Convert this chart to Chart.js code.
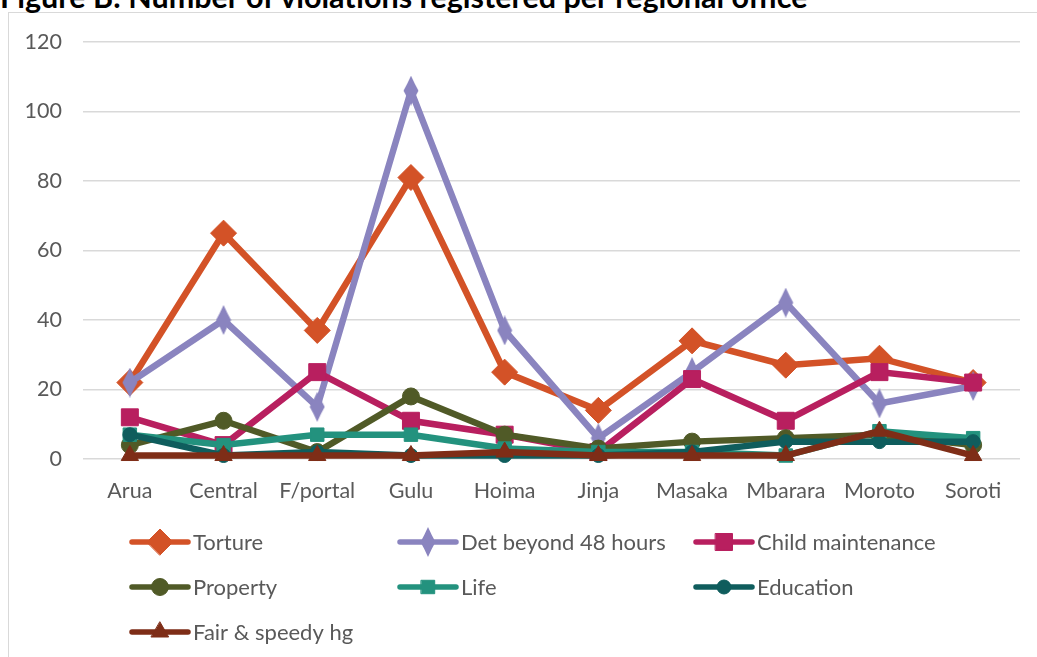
<!DOCTYPE html>
<html><head><meta charset="utf-8">
<script src="https://cdn.jsdelivr.net/npm/chart.js@4"></script>
<style>
html,body{margin:0;padding:0;background:#fff;overflow:hidden;}
#wrap{position:relative;width:1037px;height:657px;overflow:hidden;background:#fff;}
#frame{position:absolute;left:8px;top:12px;width:1100px;height:700px;border:1.5px solid #d9d9d9;box-sizing:border-box;}
#title{position:absolute;left:0;top:-22px;font-family:Lato,"Open Sans",sans-serif;font-weight:bold;font-size:30.5px;line-height:36px;white-space:nowrap;color:#000;}
canvas{position:absolute;left:0;top:0;}
</style></head>
<body>
<div id="wrap">
<div id="frame"></div>
<div id="title">Figure B: Number of violations registered per regional office</div>
<canvas id="c" width="1037" height="657"></canvas>
</div>
<script>
// ---- data ----
const categories = ['Arua','Central','F/portal','Gulu','Hoima','Jinja','Masaka','Mbarara','Moroto','Soroti'];
const torture          = [22, 65, 37, 81, 25, 14, 34, 27, 29, 22];
const detention48      = [22, 40, 15, 106, 37, 6, 25, 45, 16, 21];
const childMaintenance = [12, 4, 25, 11, 7, 2, 23, 11, 25, 22];
const property         = [4, 11, 2, 18, 7, 3, 5, 6, 7, 4];
const life             = [7, 4, 7, 7, 3, 2, 2, 1, 8, 6];
const education        = [7, 1, 2, 1, 1, 1, 2, 5, 5, 5];
const fairHearing      = [1, 1, 1, 1, 2, 1, 1, 1, 8, 1];
const seriesLabels = ['Torture','Det beyond 48 hours','Child maintenance','Property','Life','Education','Fair & speedy hg'];
const yTicks = [0, 20, 40, 60, 80, 100, 120];

// ---- styles ----
const FONT = 'Lato, "Open Sans", sans-serif';
const TEXT = '#595959';
function tallDiamond(color){
  const c = document.createElement('canvas');
  c.width = 16; c.height = 30;
  const g = c.getContext('2d');
  g.fillStyle = color;
  g.beginPath();
  g.moveTo(8,0);
  g.quadraticCurveTo(12,9,15.5,15);
  g.quadraticCurveTo(12,21,8,30);
  g.quadraticCurveTo(4,21,0.5,15);
  g.quadraticCurveTo(4,9,8,0);
  g.closePath();
  g.fill();
  return c;
}
const styles = [
  {color:'#D35227', point:'rectRot', r:13},
  {color:'#8A84BF', point:null, r:14},
  {color:'#B81F5F', point:'rect', r:12},
  {color:'#505A27', point:'circle', r:8.5},
  {color:'#23927E', point:'rect', r:9.5},
  {color:'#0F5D5D', point:'circle', r:7},
  {color:'#7E2D17', point:'triangle', r:10}
];
styles[1].point = tallDiamond(styles[1].color);
const seriesData = [torture, detention48, childMaintenance, property, life, education, fairHearing];

const datasets = seriesData.map((d,i)=>({
  label: seriesLabels[i],
  data: d,
  borderColor: styles[i].color,
  backgroundColor: styles[i].color,
  pointBackgroundColor: styles[i].color,
  pointBorderColor: styles[i].color,
  pointBorderWidth: 1,
  borderWidth: 6.5,
  pointStyle: styles[i].point,
  pointRadius: styles[i].r,
  pointHoverRadius: styles[i].r,
  tension: 0,
  clip: false,
  order: seriesData.length - i
}));

// ---- custom grid legend ----
const legendPos = [
  [132,542],[400,542],[696,542],
  [132,587],[400,587],[696,587],
  [132,632]
];
const gridLegend = {
  id:'gridLegend',
  afterDraw(chart){
    const ctx = chart.ctx;
    ctx.save();
    chart.data.datasets.forEach((ds,i)=>{
      const [x,y] = legendPos[i];
      ctx.strokeStyle = ds.borderColor;
      ctx.lineWidth = 5.5;
      ctx.lineCap = 'round';
      ctx.beginPath(); ctx.moveTo(x,y); ctx.lineTo(x+56,y); ctx.stroke();
      ctx.fillStyle = ds.borderColor;
      ctx.strokeStyle = ds.borderColor;
      ctx.lineWidth = 1;
      Chart.helpers.drawPoint(ctx, {pointStyle: ds.pointStyle, radius: ds.pointRadius, rotation:0, borderWidth:1}, x+28, y);
      ctx.fillStyle = TEXT;
      ctx.font = '22px ' + FONT;
      ctx.textBaseline = 'middle';
      ctx.textAlign = 'left';
      ctx.fillText(ds.label, x+61, y+1);
    });
    ctx.restore();
  }
};

new Chart(document.getElementById('c'), {
  type:'line',
  data:{labels:categories, datasets},
  options:{
    responsive:false,
    animation:false,
    events:[],
    layout:{padding:{top:42, right:17, left:0, bottom:0}},
    plugins:{legend:{display:false}, tooltip:{enabled:false}, title:{display:false}},
    scales:{
      x:{
        offset:true,
        grid:{display:false},
        border:{display:false},
        ticks:{color:TEXT, font:{family:FONT, size:21.5}, padding:11, maxRotation:0, autoSkip:false},
        afterFit(s){ s.height = 198; }
      },
      y:{
        min:0, max:120,
        afterBuildTicks(s){ s.ticks = yTicks.map(v=>({value:v})); },
        grid:{color:'#d9d9d9', lineWidth:1.5, drawTicks:false},
        border:{display:false},
        ticks:{color:TEXT, font:{family:FONT, size:21.5}, padding:21},
        afterFit(s){ s.width = 83; }
      }
    }
  },
  plugins:[gridLegend]
});
</script>
</body></html>
